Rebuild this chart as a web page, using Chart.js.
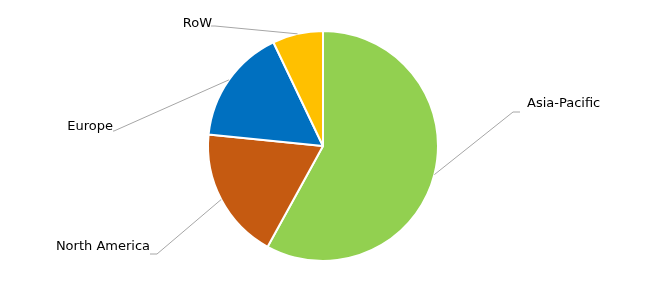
<!DOCTYPE html>
<html>
<head>
<meta charset="utf-8">
<script src="https://cdn.jsdelivr.net/npm/chart.js@4"></script>
<style>
  html, body { margin: 0; padding: 0; background: #fff; }
  #wrap { width: 646px; height: 293px; }
</style>
</head>
<body>
<div id="wrap"><canvas id="myChart" width="646" height="293"></canvas></div>
<script>
// data
const regions = ["Asia-Pacific", "North America", "Europe", "RoW"];
const shares = [58.0, 18.6, 16.3, 7.1];
const sliceColors = ["#92D050", "#C55A11", "#0070C0", "#FFC000"];

// where each label sits and where its leader line bends
const labelSpots = [
  { text: [527, 104], align: "left", elbow: [513, 112], end: [520, 112] },
  { text: [150, 247], align: "right", elbow: [157, 254], end: [150, 254] },
  { text: [113, 127], align: "right", elbow: [114, 131], end: [113, 131] },
  { text: [212, 24], align: "right", elbow: [215, 26], end: [211, 26] },
];

const leaderLabels = {
  id: "leaderLabels",
  afterDatasetsDraw(chart) {
    const c = chart.ctx;
    const arcs = chart.getDatasetMeta(0).data;
    c.save();
    c.font = "13px 'DejaVu Sans', Verdana, sans-serif";
    c.textBaseline = "middle";
    arcs.forEach(function (arc, i) {
      const spot = labelSpots[i];
      const p = arc.getProps(["x", "y", "startAngle", "endAngle", "outerRadius"], true);
      const mid = (p.startAngle + p.endAngle) / 2;
      const ox = p.x + Math.cos(mid) * p.outerRadius;
      const oy = p.y + Math.sin(mid) * p.outerRadius;
      c.strokeStyle = "#A6A6A6";
      c.lineWidth = 1;
      c.beginPath();
      c.moveTo(ox, oy);
      c.lineTo(spot.elbow[0], spot.elbow[1]);
      c.lineTo(spot.end[0], spot.end[1]);
      c.stroke();
      c.fillStyle = "#000";
      c.textAlign = spot.align;
      c.fillText(chart.data.labels[i], spot.text[0], spot.text[1]);
    });
    c.restore();
  },
};

const ctx = document.getElementById("myChart");

new Chart(ctx, {
  type: "pie",
  data: {
    labels: regions,
    datasets: [
      {
        data: shares,
        backgroundColor: sliceColors,
        borderColor: "#fff",
        borderWidth: 2,
      },
    ],
  },
  options: {
    responsive: false,
    animation: false,
    layout: { padding: { top: 30, bottom: 31, left: 100, right: 100 } },
    plugins: {
      legend: { display: false },
      tooltip: { enabled: false },
    },
  },
  plugins: [leaderLabels],
});
</script>
</body>
</html>
